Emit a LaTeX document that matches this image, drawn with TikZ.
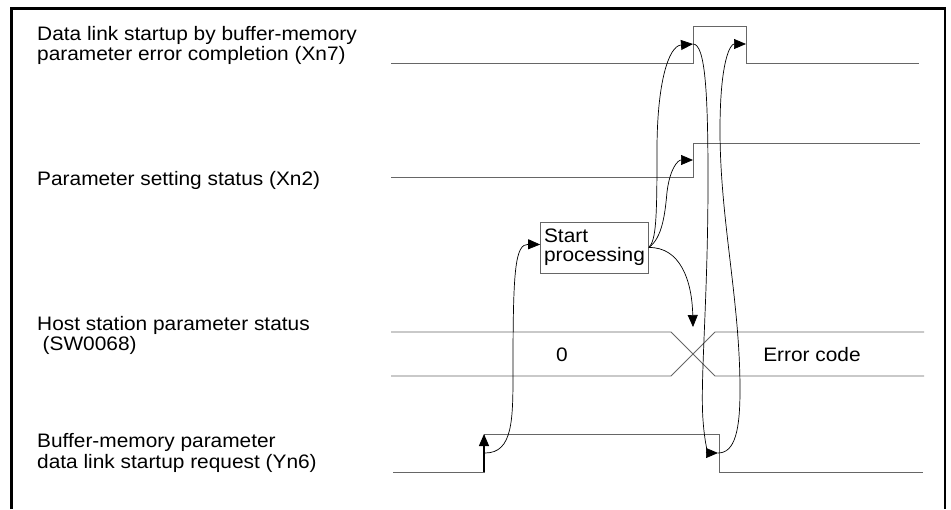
\documentclass[tikz,border=0pt]{standalone}
\usepackage{fontspec}
\setmainfont{Liberation Sans}[FakeStretch=1.07]
\usetikzlibrary{arrows.meta,positioning}

\tikzset{
  sigline/.style={draw=black!60, line width=0.9pt},
  flow/.style={draw=black, line width=0.7pt, -{Triangle[length=12pt,width=10pt]}},
  label/.style={anchor=base west, inner sep=0pt, align=left,
    font=\fontsize{19.5}{20}\selectfont},
}

\begin{document}
\begin{tikzpicture}[x=1pt, y=-1pt]
\useasboundingbox (0,0) rectangle (951,509);
% frame
\draw[line width=3pt] (11,509) -- (11,8) -- (946,8);
\draw[line width=2.2pt] (945,8) -- (945,509);

% signal names
\node[label] (lxn7) at (37,60) {Data link startup by buffer-memory\\parameter error completion (Xn7)};
\node[label] (lxn2) at (37,185) {Parameter setting status (Xn2)};
\node[label] (lsw) at (37,350) {Host station parameter status\\\hspace*{0.28em}(SW0068)};
\node[label, font=\fontsize{19.5}{21}\selectfont] (lyn6) at (37,468) {Buffer-memory parameter\\data link startup request (Yn6)};

% key points on the waveforms
\coordinate (p7up) at (693,44);
\coordinate (p7down) at (746,44);
\coordinate (p2up) at (693,160);
\coordinate (swx) at (693,327);
\coordinate (y6lo) at (484,472);
\coordinate (y6up) at (484,434);
\coordinate (y6mid) at (485,453);
\coordinate (y6down) at (718,453);

% waveforms
\draw[sigline] (391,63) -- (693,63) -- (693,26) -- (746,26) -- (746,63) -- (919,63);
\draw[sigline] (391,177) -- (693,177) -- (693,143) -- (920,143);
\draw[sigline] (391,332) -- (671,332) -- (715,376) -- (924,376);
\draw[sigline] (391,376) -- (671,376) -- (715,332) -- (924,332);
\draw[sigline] (393,472) -- (484,472) -- (484,434) -- (719,434) -- (719,472) -- (923,472);
\node[label, anchor=center] (zero) at (562,355) {0};
\node[label, anchor=center] (err) at (812,355) {Error code};

\node[draw=black!60, line width=0.8pt, minimum width=107pt, minimum height=51pt,
  inner xsep=3.5pt, align=left, font=\fontsize{19.5}{19}\selectfont] (start) at (594.5,247.5) {Start\\processing};

% request rising edge
\draw[flow, line width=1.3pt] (y6lo) -- (y6up);
\draw[flow] (y6mid) .. controls (513,453) and (513,420) .. (513,370)
  .. controls (513,270) and (515,244) .. ([yshift=3pt]start.west);

% from start processing
\draw[flow] (start.east) .. controls (656,240) and (657,220) .. (657,150)
  .. controls (657,85) and (668,46) .. (p7up);
\draw[flow] (start.east) .. controls (662,238) and (665,215) .. (667,192)
  .. controls (670,168) and (678,160) .. (p2up);
\draw[flow] (start.east) .. controls (680,247) and (692,280) .. (swx);

% completion loop
\draw[flow] (p7up) .. controls (705,44) and (708,90) .. (708,180)
  .. controls (708,300) and (700,380) .. (703,420)
  .. controls (705,448) and (709,453) .. (y6down);
\draw[flow] (y6down) .. controls (735,453) and (740,430) .. (740,390)
  .. controls (740,300) and (720,220) .. (720,130)
  .. controls (720,62) and (730,44) .. (p7down);
\end{tikzpicture}
\end{document}
